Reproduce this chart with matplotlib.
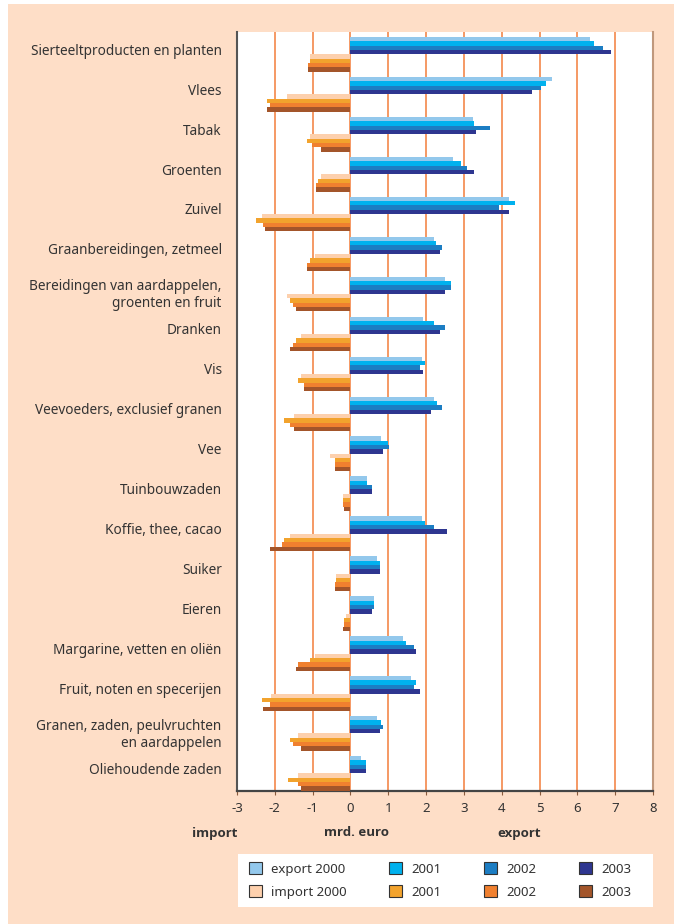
import numpy as np
import matplotlib
matplotlib.use('Agg')
import matplotlib.pyplot as plt
from matplotlib.patches import Rectangle, Patch

plt.rcParams['font.family'] = ['Noto Sans', 'DejaVu Sans']

categories = [
    'Sierteeltproducten en planten', 'Vlees', 'Tabak', 'Groenten', 'Zuivel',
    'Graanbereidingen, zetmeel',
    'Bereidingen van aardappelen,\ngroenten en fruit',
    'Dranken', 'Vis', 'Veevoeders, exclusief granen', 'Vee', 'Tuinbouwzaden',
    'Koffie, thee, cacao', 'Suiker', 'Eieren', 'Margarine, vetten en oliën',
    'Fruit, noten en specerijen',
    'Granen, zaden, peulvruchten\nen aardappelen',
    'Oliehoudende zaden',
]

# mrd. euro
export_2000 = [6.33, 5.32, 3.23, 2.70, 4.18, 2.20, 2.49, 1.93, 1.88, 2.20,
               0.82, 0.45, 1.88, 0.71, 0.61, 1.40, 1.61, 0.71, 0.29]
export_2001 = [6.43, 5.16, 3.28, 2.91, 4.34, 2.25, 2.65, 2.20, 1.98, 2.30,
               0.98, 0.45, 1.98, 0.77, 0.61, 1.46, 1.72, 0.82, 0.40]
export_2002 = [6.69, 5.05, 3.70, 3.07, 3.92, 2.43, 2.65, 2.49, 1.83, 2.43,
               1.03, 0.56, 2.20, 0.77, 0.61, 1.67, 1.67, 0.87, 0.40]
export_2003 = [6.90, 4.79, 3.33, 3.28, 4.18, 2.38, 2.49, 2.38, 1.93, 2.14,
               0.87, 0.56, 2.54, 0.77, 0.56, 1.72, 1.83, 0.77, 0.40]

import_2000 = [-1.06, -1.69, -1.06, -0.79, -2.35, -0.95, -1.69, -1.32, -1.32, -1.48,
               -0.53, -0.21, -1.59, -0.37, -0.11, -0.95, -2.09, -1.38, -1.38]
import_2001 = [-1.06, -2.20, -1.16, -0.85, -2.51, -1.06, -1.59, -1.43, -1.38, -1.75,
               -0.42, -0.21, -1.75, -0.37, -0.16, -1.06, -2.35, -1.59, -1.64]
import_2002 = [-1.11, -2.14, -1.01, -0.90, -2.30, -1.16, -1.53, -1.53, -1.22, -1.59,
               -0.42, -0.21, -1.80, -0.42, -0.16, -1.38, -2.14, -1.53, -1.38]
import_2003 = [-1.11, -2.20, -0.79, -0.90, -2.25, -1.16, -1.43, -1.59, -1.22, -1.48,
               -0.42, -0.16, -2.14, -0.42, -0.21, -1.43, -2.30, -1.32, -1.32]

years = ['2000', '2001', '2002', '2003']
export_series = [export_2000, export_2001, export_2002, export_2003]
import_series = [import_2000, import_2001, import_2002, import_2003]
export_colors = ['#93C8EC', '#00B1EE', '#1C7DC3', '#2E3690']
import_colors = ['#FDD0AD', '#F2A32D', '#F0802F', '#A3552A']

bg = '#FEDEC7'
grid_col = '#F3874A'
txt = '#333333'

W, H = 674, 924
fig = plt.figure(figsize=(W / 100, H / 100), dpi=100, facecolor='white')
fig.patches.append(Rectangle((8 / W, 0), 1 - 8 / W, 1 - 4 / H, transform=fig.transFigure,
                             facecolor=bg, edgecolor='none', zorder=-10))

ax = fig.add_axes([237 / W, 133 / H, 416 / W, 759 / H])
ax.set_facecolor('white')

n = len(categories)
y0 = np.arange(n)
bh = 0.1086
off = 0.125

for j in range(4):
    ax.barh(y0 + off + (j + 0.5) * bh, export_series[j], height=bh,
            color=export_colors[j], zorder=3)
for j in range(4):
    ax.barh(y0 + off + (4 + j + 0.5) * bh, import_series[j], height=bh,
            color=import_colors[j], zorder=3)

ax.set_xlim(-3, 8)
ax.set_ylim(n, 0)

# vertical grid lines
for x in range(-2, 8):
    ax.axvline(x, color=grid_col, lw=1.2, zorder=1)

# category labels
label_pos = [i + (0.52 if '\n' in c else 0.43) for i, c in enumerate(categories)]
ax.set_yticks(label_pos)
ax.set_yticklabels(categories, fontsize=9.8, color=txt, linespacing=1.15)
ax.tick_params(axis='y', length=0, pad=11)

ax.set_xticks(range(-3, 9))
ax.set_xticklabels([str(v) for v in range(-3, 9)], fontsize=9.5, color=txt)
ax.tick_params(axis='x', length=3, width=0.8, color='#8A5A3A', pad=5)

ax.spines['top'].set_visible(False)
ax.spines['left'].set_color('#555555')
ax.spines['left'].set_linewidth(1.5)
ax.spines['bottom'].set_color('#444444')
ax.spines['bottom'].set_linewidth(1.6)
ax.spines['right'].set_color('#C0987C')
ax.spines['right'].set_linewidth(1.5)

# axis captions
bold = dict(fontsize=9.5, fontweight='bold', color=txt, family=['Open Sans', 'DejaVu Sans'])
fig.text(237 / W, 1 - 833 / H, 'import', ha='right', va='center', **bold)
fig.text(356 / W, 1 - 833 / H, 'mrd. euro', ha='center', va='center', **bold)
fig.text(519 / W, 1 - 833 / H, 'export', ha='center', va='center', **bold)

# legend on white box
fig.patches.append(Rectangle((238 / W, 1 - 907 / H), 415 / W, 53 / H,
                             transform=fig.transFigure, facecolor='white',
                             edgecolor='none', zorder=1))
handles = []
labels = []
for j in range(4):
    handles.append(Patch(facecolor=export_colors[j], edgecolor='#333333', linewidth=0.8))
    labels.append('export 2000' if j == 0 else years[j])
    handles.append(Patch(facecolor=import_colors[j], edgecolor='#333333', linewidth=0.8))
    labels.append('import 2000' if j == 0 else years[j])
leg = fig.legend(handles, labels, ncol=4, loc='center left',
                 bbox_to_anchor=(249 / W, 1 - 880.5 / H), frameon=False,
                 fontsize=9.5, handlelength=1.0, handleheight=1.0,
                 handletextpad=0.7, columnspacing=3.2, labelspacing=0.7,
                 borderpad=0, borderaxespad=0)
for t in leg.get_texts():
    t.set_color(txt)

fig.savefig('out.png', dpi=100, facecolor=fig.get_facecolor())
